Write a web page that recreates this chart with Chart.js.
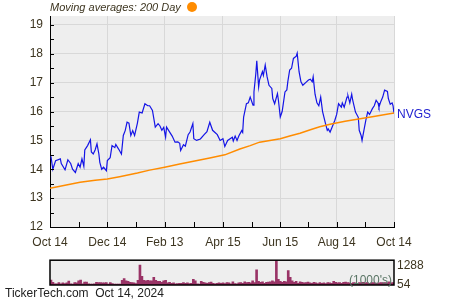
<!DOCTYPE html>
<html>
<head>
<meta charset="utf-8">
<script src="https://cdn.jsdelivr.net/npm/chart.js@4/dist/chart.umd.min.js"></script>
<style>
    body { margin: 0; background: #fff; font-family: "Liberation Sans", Arial, sans-serif; }
    #wrap { position: relative; width: 450px; height: 300px; overflow: hidden; }
    canvas { position: absolute; left: 0; }
    .txt { position: absolute; font-size: 12px; white-space: nowrap; color: #3d3520; }
</style>
</head>
<body>
<div id="wrap">
    <canvas id="price-chart" width="450" height="250" style="top:0"></canvas>
    <canvas id="volume-chart" width="450" height="50" style="top:250px"></canvas>
    <div class="txt" style="left:50px; top:1px; font-size:11px; font-style:italic;">Moving averages: 200 Day</div>
    <div style="position:absolute; left:187px; top:2px; width:10px; height:10px; border-radius:50%; background:#ff8c00;"></div>
    <div class="txt" style="left:397px; top:107px; color:#2020d0;">NVGS</div>
    <div class="txt" style="left:349px; top:273px; color:#5a7565;">(1000's)</div>
    <div class="txt" style="left:5px; top:286px; color:#222;">TickerTech.com&nbsp; Oct 14, 2024</div>
</div>
<script>
// days since Oct 14, 2023
const tickDays = [0, 61, 122, 184, 245, 305, 366];
const tickLabels = ['Oct 14', 'Dec 14', 'Feb 13', 'Apr 15', 'Jun 15', 'Aug 14', 'Oct 14'];

const priceDays = [1, 3, 6, 11, 12, 16, 19, 22, 24, 27, 30, 32, 34, 36, 37, 40, 43, 44, 46, 48,
    50, 52, 53, 55, 57, 60, 61, 64, 66, 69, 70, 73, 76, 78, 80, 82, 84, 86, 88, 90,
    93, 95, 98, 101, 104, 106, 109, 112, 115, 117, 119, 121, 123, 124, 128, 130, 133, 136, 138, 139,
    142, 144, 147, 149, 152, 153, 156, 160, 164, 167, 170, 173, 178, 181, 184, 186, 189, 194, 195, 197,
    199, 201, 204, 205, 206, 209, 211, 213, 216, 217, 219, 220, 222, 223, 226, 227, 229, 231, 233, 236,
    237, 239, 242, 243, 245, 247, 248, 250, 252, 253, 255, 257, 259, 262, 263, 265, 267, 269, 272, 275,
    277, 279, 280, 282, 284, 286, 288, 290, 293, 295, 296, 298, 300, 303, 305, 307, 310, 311, 313, 316,
    317, 319, 321, 322, 325, 328, 329, 331, 332, 334, 336, 338, 340, 343, 345, 347, 349, 350, 352, 354,
    356, 359, 360, 362, 364, 365, 366];
const priceValues = [14.45, 14.0, 14.3, 14.36, 14.2, 13.98, 14.33, 14.2, 14.0, 13.89, 14.2, 14.07, 14.36, 14.1, 14.67, 14.82, 15.02, 14.6, 14.53, 14.67,
    14.88, 14.53, 14.24, 14.0, 14.07, 13.95, 14.3, 14.4, 14.82, 14.75, 14.86, 14.7, 14.53, 15.17, 15.34, 15.63, 15.6, 15.17, 15.34, 15.17,
    15.6, 15.98, 15.95, 16.27, 16.2, 16.2, 16.04, 15.46, 15.58, 15.5, 15.35, 15.45, 15.11, 15.46, 15.25, 15.15, 14.94, 14.95, 14.9, 14.65,
    14.85, 14.8, 15.2, 15.29, 15.58, 15.06, 15.0, 15.05, 15.2, 15.3, 15.63, 15.35, 15.2, 15.0, 15.06, 14.79, 15.0, 15.11, 14.98, 15.15,
    15.0, 15.16, 15.34, 15.28, 15.81, 16.27, 16.3, 16.5, 16.22, 16.68, 17.32, 17.76, 16.85, 17.1, 17.38, 17.25, 17.61, 17.2, 16.91, 16.8,
    16.45, 16.27, 16.62, 16.4, 15.81, 16.0, 16.22, 16.68, 16.75, 17.03, 17.44, 17.5, 17.84, 17.92, 18.02, 17.38, 17.03, 16.91, 17.0, 17.09,
    17.12, 17.03, 17.2, 16.6, 16.3, 16.2, 16.5, 16.0, 15.6, 15.35, 15.4, 15.29, 15.45, 15.69, 15.9, 16.27, 16.15, 16.3, 16.15, 16.5,
    16.55, 16.3, 16.6, 16.4, 15.98, 15.8, 15.35, 15.17, 15.0, 15.35, 15.69, 15.98, 15.9, 16.1, 16.2, 16.39, 16.3, 16.15, 16.35, 16.5,
    16.74, 16.7, 16.45, 16.25, 16.3, 16.2, 15.93];

const maDays = [0, 16, 32, 48, 61, 74, 93, 106, 122, 138, 154, 170, 186, 202, 213, 223, 234, 245, 255, 266, 277, 287, 298, 314, 330, 346, 366];
const maValues = [13.34, 13.45, 13.55, 13.62, 13.66, 13.74, 13.87, 13.97, 14.07, 14.18, 14.29, 14.39, 14.5, 14.7, 14.82, 14.94, 15.0, 15.06, 15.15, 15.25, 15.37, 15.47, 15.56, 15.66, 15.75, 15.84, 15.95];

const priceTicks = [12, 13, 14, 15, 16, 17, 18, 19];

// volume in 1000's, one bar per ~2 days
const volumes = [335, 177, 79, 79, 158, 79, 138, 99, 138, 256, 79, 59, 158, 138, 276, 335, 79, 197, 197, 79,
    59, 59, 79, 177, 158, 158, 138, 138, 158, 59, 158, 99, 59, 59, 59, 59, 315, 433, 276, 236,
    177, 158, 138, 99, 315, 1320, 571, 315, 276, 315, 276, 276, 512, 315, 236, 236, 177, 276, 315, 138,
    177, 118, 138, 79, 99, 118, 118, 158, 118, 138, 99, 118, 374, 276, 79, 59, 236, 177, 138, 118,
    158, 197, 118, 79, 118, 138, 118, 138, 99, 158, 138, 79, 217, 99, 79, 138, 158, 118, 217, 158,
    177, 138, 276, 158, 1005, 236, 177, 217, 118, 177, 197, 217, 276, 217, 1700, 374, 236, 177, 236, 217,
    965, 512, 276, 177, 236, 118, 217, 177, 138, 158, 197, 138, 118, 177, 138, 99, 158, 118, 138, 99,
    158, 138, 118, 236, 177, 138, 158, 118, 177, 197, 158, 138, 118, 158, 138, 118, 158, 138, 177, 138,
    158, 118, 138, 158, 138, 118, 138, 158, 138, 158, 138, 217, 138, 158];
const volumeTicks = [54, 1288];

const textColor = '#3d3520';
const font = { family: '"Liberation Sans", Arial, sans-serif', size: 12 };

// grey plot background
const panelBg = {
    id: 'panelBg',
    beforeDraw(chart) {
        const { ctx, chartArea: a } = chart;
        ctx.save();
        ctx.fillStyle = '#eeeeee';
        ctx.fillRect(a.left, a.top, a.right - a.left, a.bottom - a.top);
        ctx.restore();
    }
};

// small inward ticks on the price axes
const innerTicks = {
    id: 'innerTicks',
    afterDraw(chart) {
        const { ctx, chartArea: a, scales } = chart;
        ctx.save();
        ctx.strokeStyle = '#000';
        ctx.lineWidth = 1;
        ctx.beginPath();
        for (let v = 12.5; v < 19.3; v += 0.5) {
            const y = Math.round(scales.y.getPixelForValue(v)) + 0.5;
            ctx.moveTo(a.left, y);
            ctx.lineTo(a.left + 4, y);
        }
        for (let i = 0; i < tickDays.length; i++) {
            const days = [tickDays[i]];
            if (i > 0) days.push((tickDays[i] + tickDays[i - 1]) / 2);
            days.forEach(d => {
                const x = Math.round(scales.x.getPixelForValue(d)) + 0.5;
                ctx.moveTo(x, a.bottom);
                ctx.lineTo(x, a.bottom - 5);
            });
        }
        ctx.stroke();
        ctx.restore();
    }
};

new Chart(document.getElementById('price-chart'), {
    type: 'line',
    data: {
        datasets: [{
            data: maDays.map((d, i) => ({ x: d, y: maValues[i] })),
            borderColor: '#ff8c00',
            borderWidth: 1.5,
            pointRadius: 0
        }, {
            data: priceDays.map((d, i) => ({ x: d, y: priceValues[i] })),
            borderColor: '#1414e6',
            borderWidth: 1.2,
            pointRadius: 0
        }]
    },
    options: {
        responsive: false,
        animation: false,
        layout: { padding: { top: 16, right: 56, left: 0, bottom: 0 } },
        plugins: { legend: { display: false }, tooltip: { enabled: false } },
        scales: {
            x: {
                type: 'linear',
                min: 0,
                max: 366,
                afterBuildTicks: scale => { scale.ticks = tickDays.map(v => ({ value: v })); },
                afterFit: scale => { scale.height = 23; },
                ticks: {
                    autoSkip: false,
                    maxRotation: 0,
                    padding: 8,
                    color: textColor,
                    font: font,
                    callback: (value, index) => tickLabels[index]
                },
                grid: { color: '#d8d8d8', drawTicks: false },
                border: { color: '#000', width: 1 }
            },
            y: {
                min: 12,
                max: 19.31,
                afterBuildTicks: scale => { scale.ticks = priceTicks.map(v => ({ value: v })); },
                afterFit: scale => { scale.width = 50; },
                ticks: { padding: 7, color: textColor, font: font },
                grid: { color: '#d8d8d8', drawTicks: false },
                border: { color: '#000', width: 1 }
            }
        }
    },
    plugins: [panelBg, innerTicks]
});

// black frame around the volume panel
const panelFrame = {
    id: 'panelFrame',
    afterDraw(chart) {
        const { ctx, chartArea: a } = chart;
        ctx.save();
        ctx.strokeStyle = '#000';
        ctx.lineWidth = 1.5;
        ctx.strokeRect(a.left, a.top, a.right - a.left, a.bottom - a.top);
        ctx.restore();
    }
};

new Chart(document.getElementById('volume-chart'), {
    type: 'bar',
    data: {
        labels: volumes.map((v, i) => i),
        datasets: [{
            data: volumes,
            backgroundColor: '#993366',
            barPercentage: 1,
            categoryPercentage: 1
        }]
    },
    options: {
        responsive: false,
        animation: false,
        layout: { padding: { top: 7, right: 0, left: 50, bottom: 15 } },
        plugins: { legend: { display: false }, tooltip: { enabled: false } },
        scales: {
            x: { display: false },
            y: {
                position: 'right',
                min: 0,
                max: 1650,
                afterBuildTicks: scale => { scale.ticks = volumeTicks.map(v => ({ value: v })); },
                afterFit: scale => { scale.width = 56; },
                ticks: { padding: 3, color: textColor, font: font, callback: value => String(value) },
                grid: { display: false, drawTicks: false },
                border: { display: false }
            }
        }
    },
    plugins: [panelBg, panelFrame]
});
</script>
</body>
</html>
